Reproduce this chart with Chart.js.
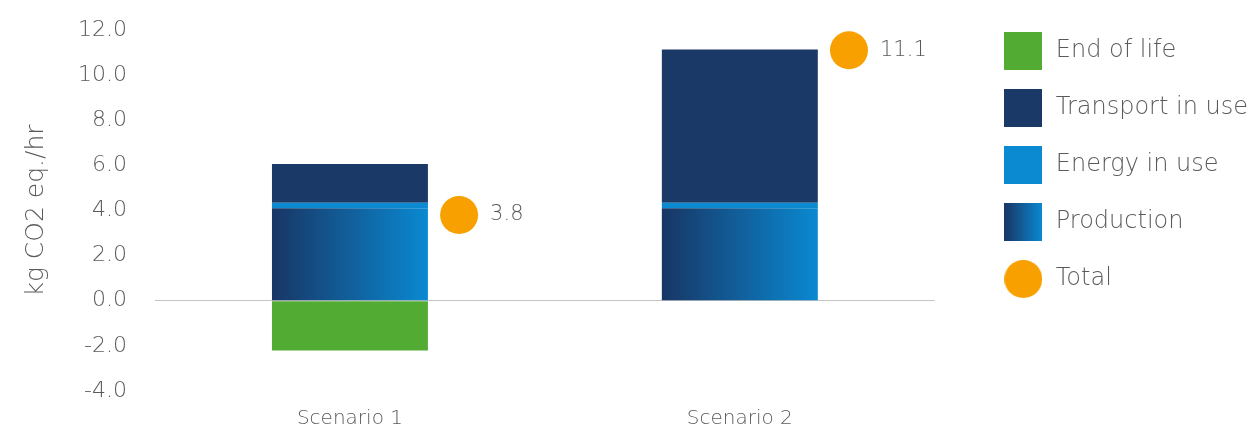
<!DOCTYPE html>
<html>
<head>
<meta charset="utf-8">
<script src="https://cdn.jsdelivr.net/npm/chart.js@4.4.1/dist/chart.umd.min.js"></script>
<style>
  html, body { margin: 0; padding: 0; background: #fff; }
  #wrap { width: 1252px; height: 429px; }
</style>
</head>
<body>
<div id="wrap"><canvas id="grafico"></canvas></div>
<script>
// dados
const cenarios   = ['Scenario 1', 'Scenario 2'];
const producao   = [4.1, 4.1];
const energia    = [0.24, 0.24];
const transporte = [1.72, 6.8];
const fimDeVida  = [-2.2, 0];
const totais     = [3.8, 11.1];
const yMin = -4, yMax = 12, yPasso = 2;

const cores = {
  fim: '#52ac34',
  transporte: '#1b3966',
  energia: '#0b8ad2',
  prodEsq: '#183665',
  prodDir: '#0a89d1',
  total: '#f8a000',
  texto: '#5a5a5a',
  zero: '#c4c4c4'
};
const fonte = 'DejaVu Sans';
const barPct = 0.4;
const deslocTotal = 0.28; // bolinha do total fica à direita da barra

function iconeLegenda(tipo) {
  const c = document.createElement('canvas');
  c.width = 38; c.height = 38;
  const g = c.getContext('2d');
  if (tipo === 'gradiente') {
    const gr = g.createLinearGradient(0, 0, 38, 0);
    gr.addColorStop(0, cores.prodEsq);
    gr.addColorStop(1, cores.prodDir);
    g.fillStyle = gr;
    g.fillRect(0, 0, 38, 38);
  } else if (tipo === 'circulo') {
    g.fillStyle = cores.total;
    g.beginPath();
    g.arc(19, 19, 19, 0, Math.PI * 2);
    g.fill();
  } else {
    g.fillStyle = tipo;
    g.fillRect(0, 0, 38, 38);
  }
  return c;
}

function gradienteProducao(c) {
  const chart = c.chart;
  const x = chart.scales.x;
  if (!x || c.dataIndex === undefined || !x.width) return cores.prodDir;
  const centro = x.getPixelForValue(c.dataIndex);
  const meia = x.width / cenarios.length * barPct / 2;
  const gr = chart.ctx.createLinearGradient(centro - meia, 0, centro + meia, 0);
  gr.addColorStop(0, cores.prodEsq);
  gr.addColorStop(1, cores.prodDir);
  return gr;
}

const rotulosTotal = {
  id: 'rotulosTotal',
  afterDatasetsDraw(chart) {
    const meta = chart.getDatasetMeta(4);
    const ctx = chart.ctx;
    ctx.save();
    ctx.font = `300 21px "${fonte}"`;
    ctx.fillStyle = cores.texto;
    ctx.textAlign = 'left';
    ctx.textBaseline = 'middle';
    meta.data.forEach((pt, i) => {
      ctx.fillText(totais[i].toFixed(1), pt.x + 31, pt.y);
    });
    ctx.restore();
  }
};

new Chart(document.getElementById('grafico'), {
  data: {
    labels: cenarios,
    datasets: [
      { type: 'bar', label: 'Production', stack: 'c', data: producao, backgroundColor: gradienteProducao },
      { type: 'bar', label: 'Energy in use', stack: 'c', data: energia, backgroundColor: cores.energia },
      { type: 'bar', label: 'Transport in use', stack: 'c', data: transporte, backgroundColor: cores.transporte },
      { type: 'bar', label: 'End of life', stack: 'c', data: fimDeVida, backgroundColor: cores.fim },
      {
        type: 'line', label: 'Total', xAxisID: 'xTotal',
        data: totais.map((v, i) => ({ x: i + deslocTotal, y: v })),
        showLine: false, pointRadius: 19, pointHoverRadius: 19,
        pointBackgroundColor: cores.total, pointBorderWidth: 0
      }
    ]
  },
  options: {
    responsive: true,
    maintainAspectRatio: false,
    animation: false,
    events: [],
    datasets: { bar: { barPercentage: barPct, categoryPercentage: 1, grouped: false } },
    layout: { padding: { left: 17, top: 6, right: -6, bottom: 0 } },
    plugins: {
      tooltip: { enabled: false },
      legend: {
        position: 'right',
        align: 'start',
        maxWidth: 400,
        labels: {
          usePointStyle: true,
          pointStyleWidth: 41,
          padding: 33,
          color: cores.texto,
          font: { family: fonte, size: 24, weight: 300 },
          generateLabels: () => [
            ['End of life', iconeLegenda(cores.fim)],
            ['Transport in use', iconeLegenda(cores.transporte)],
            ['Energy in use', iconeLegenda(cores.energia)],
            ['Production', iconeLegenda('gradiente')],
            ['Total', iconeLegenda('circulo')]
          ].map(([text, img]) => ({
            text, pointStyle: img, fillStyle: 'transparent', strokeStyle: 'transparent',
            lineWidth: 0, hidden: false, fontColor: cores.texto
          }))
        }
      }
    },
    scales: {
      x: {
        stacked: true,
        grid: { display: false, drawTicks: false },
        border: { display: false },
        ticks: { color: cores.texto, padding: 16, font: { family: fonte, size: 20, weight: 300 } },
        afterFit: s => { s.height = 38; }
      },
      xTotal: {
        type: 'linear',
        position: 'top',
        min: -0.5, max: 1.5,
        grid: { display: false, drawTicks: false },
        border: { display: false },
        ticks: { display: false },
        afterFit: s => { s.height = 24; }
      },
      y: {
        stacked: true,
        min: yMin, max: yMax,
        ticks: {
          stepSize: yPasso,
          padding: 28,
          color: cores.texto,
          // lineHeight baixo para o padding dos rótulos não empurrar a área do gráfico
          font: { family: fonte, size: 22, weight: 300, lineHeight: 0.1 },
          callback: v => v.toFixed(1)
        },
        grid: {
          drawTicks: false,
          color: c => c.tick && c.tick.value === 0 ? cores.zero : 'transparent'
        },
        border: { display: false },
        title: {
          display: true,
          text: 'kg CO2 eq./hr',
          color: cores.texto,
          padding: { top: 4, bottom: 0 },
          font: { family: fonte, size: 25, weight: 300 }
        },
        afterFit: s => { s.width = 138; }
      },
      yFolga: {
        position: 'right',
        grid: { display: false, drawTicks: false },
        border: { display: false },
        ticks: { display: false },
        afterFit: s => { s.width = 35; }
      }
    }
  },
  plugins: [rotulosTotal]
});
</script>
</body>
</html>
